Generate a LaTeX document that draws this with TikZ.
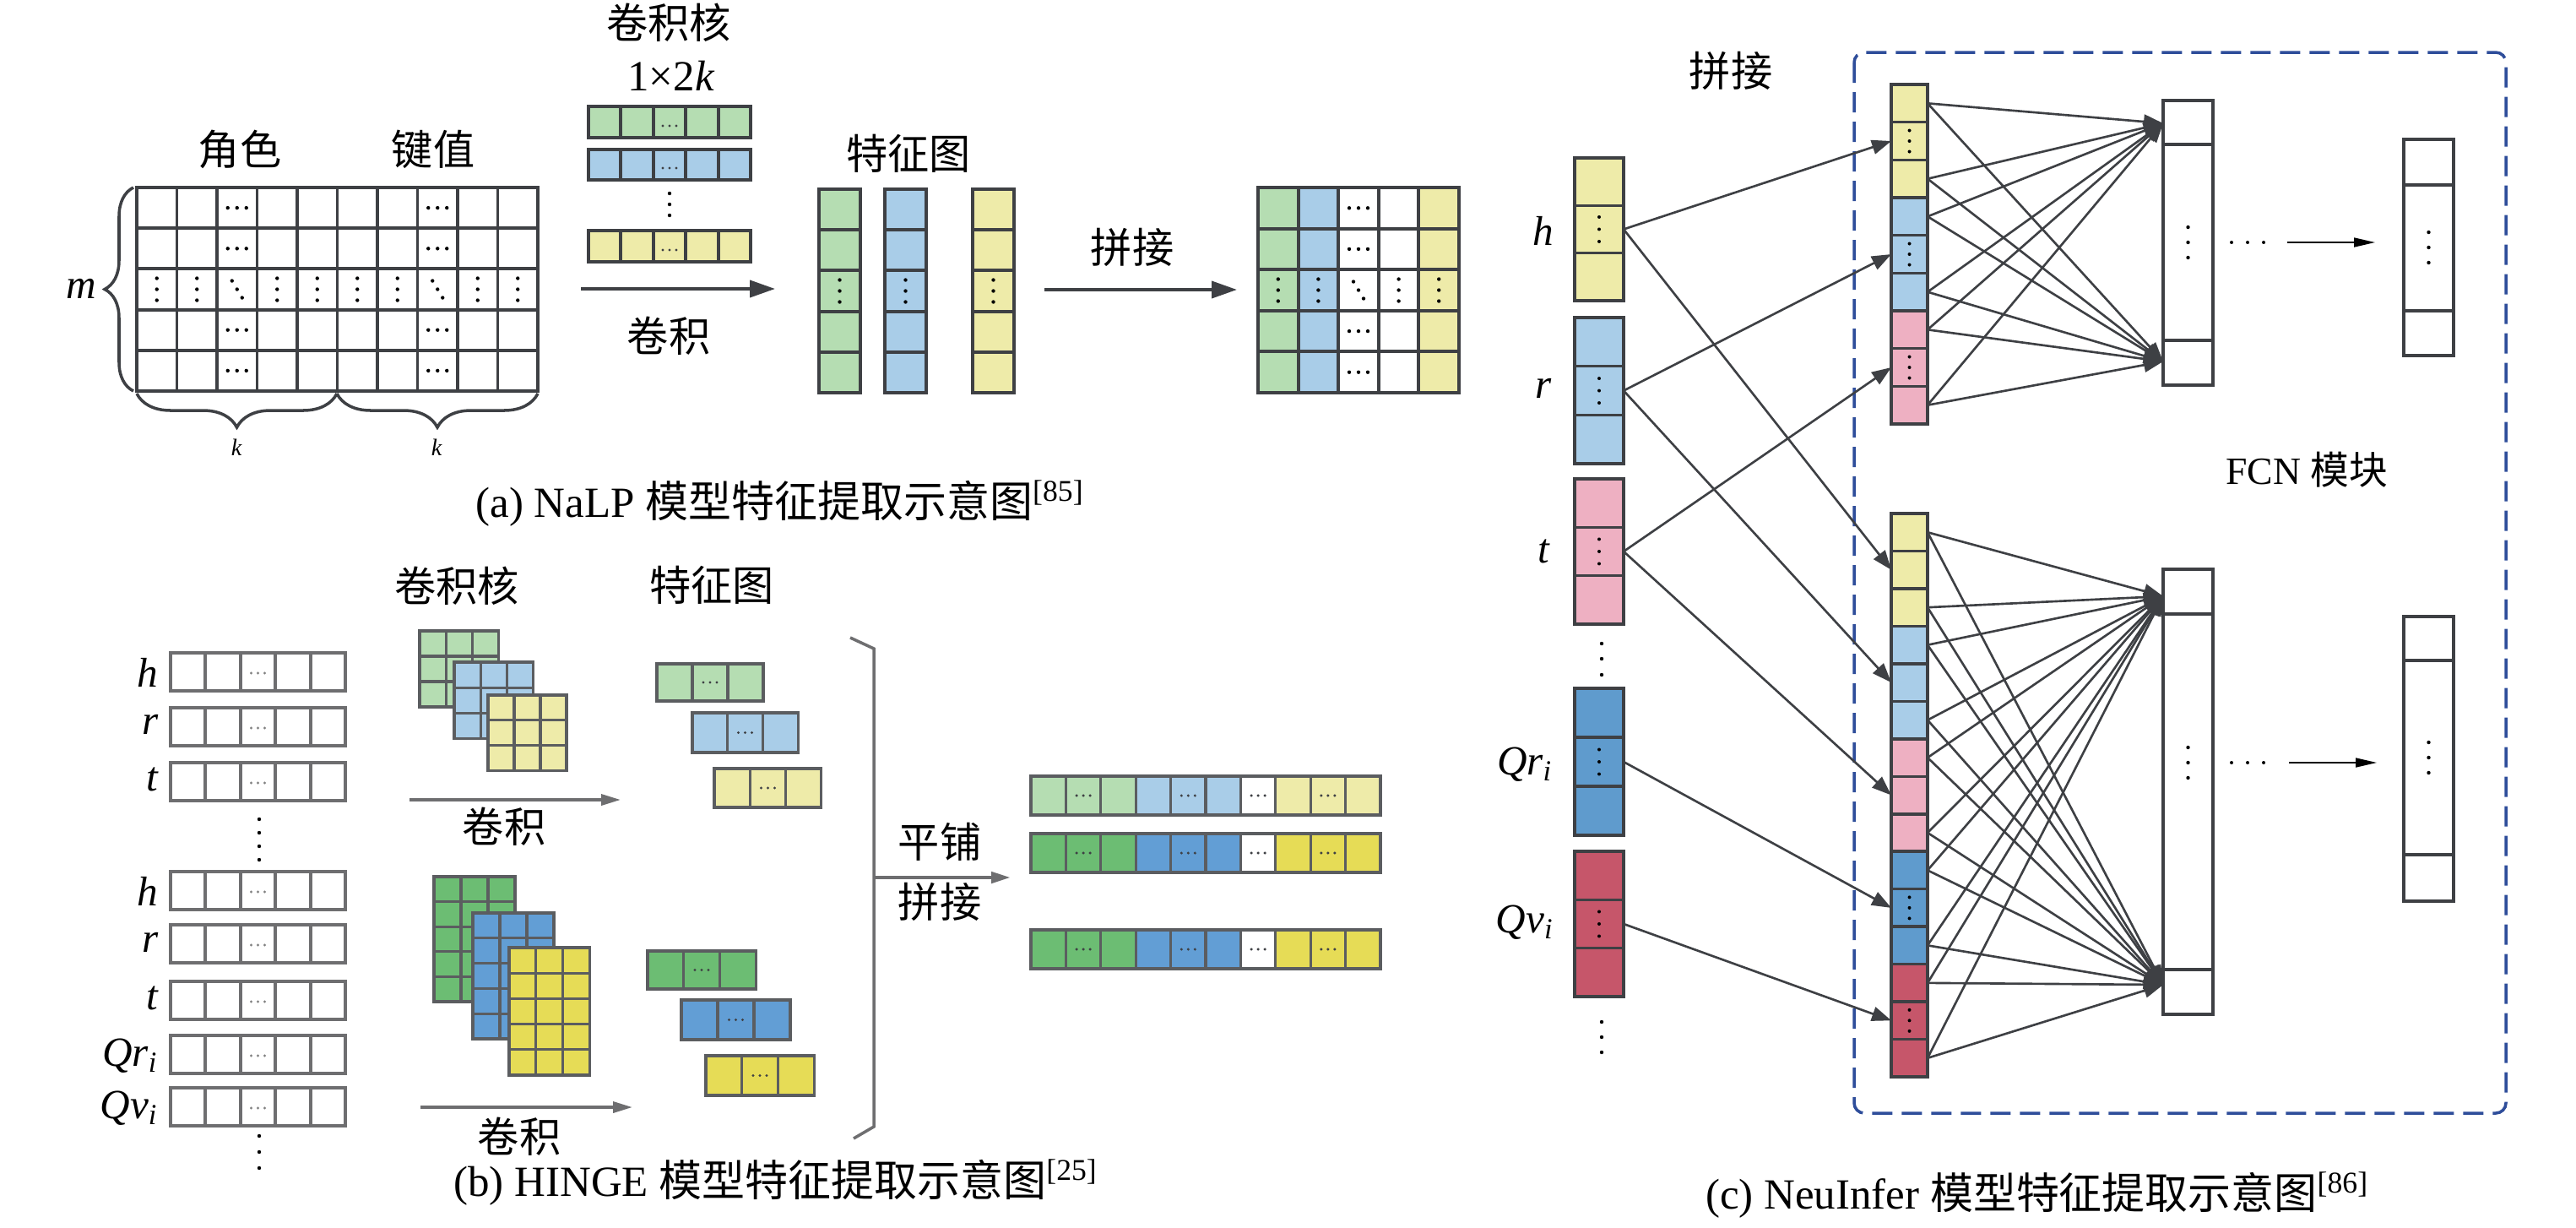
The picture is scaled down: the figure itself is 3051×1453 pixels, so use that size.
\documentclass[tikz,border=0pt]{standalone}
\usepackage{fontspec}
\setmainfont{Liberation Serif}
\newfontfamily\cjk{Noto Sans CJK SC}
\usetikzlibrary{arrows.meta,decorations.pathreplacing}
\definecolor{lgreen}{RGB}{181,221,178}
\definecolor{lblue}{RGB}{169,205,232}
\definecolor{lyellow}{RGB}{238,235,169}
\definecolor{lpink}{RGB}{238,176,194}
\definecolor{qblue}{RGB}{95,155,205}
\definecolor{qred}{RGB}{198,86,106}
\definecolor{dgreen}{RGB}{108,189,115}
\definecolor{hblue}{RGB}{98,158,213}
\definecolor{dyellow}{RGB}{230,220,86}
\definecolor{gridc}{RGB}{62,64,68}
\definecolor{rowc}{RGB}{110,110,112}
\definecolor{boxblue}{RGB}{46,77,154}
\newcommand\dotsH[3][black]{\foreach \dd in {-1,0,1}{\fill[#1] ({#2+\dd*11},{#3}) circle (0.22mm);}}
\newcommand\sdotsH[3][gridc]{\foreach \dd in {-1,0,1}{\fill[#1] ({#2+\dd*8},{#3}) circle (0.17mm);}}
\newcommand\dotsV[3][black]{\foreach \dd in {-1,0,1}{\fill[#1] ({#2},{#3+\dd*13}) circle (0.22mm);}}
\newcommand\dotsD[3][black]{\foreach \dd in {-1,0,1}{\fill[#1] ({#2+\dd*6},{#3+\dd*10}) circle (0.22mm);}}
\newcommand\dotsVat[2]{\foreach \dd in {-1,0,1}{\fill[black] ([yshift=\dd*#2]#1.center) circle (0.2mm);}}
\newcommand\cellrow[7]{\foreach \cc in {1,...,#6}{\draw[#1,fill=#7] ({#2+(\cc-1)*#4},{#3}) rectangle ++(#4,#5);}}
\newcommand\cellgrid[8]{\foreach \cc in {1,...,#6}{\foreach \rr in {1,...,#7}{\draw[#1,fill=#8] ({#2+(\cc-1)*#4},{#3+(\rr-1)*#5}) rectangle ++(#4,#5);}}}
\newcommand\vcol[7]{\foreach \ii in {1,...,#6}{\node[vc,fill=#2,minimum width=#7mm,minimum height={#5*0.1mm}] (#1-\ii) at (#3,{#4+(\ii-0.5)*#5}) {};}}
\newcommand\outrow[4]{\cellrow{kl}{1221}{#1}{41.4}{46}{3}{#2}\cellrow{kl}{1345.2}{#1}{41.4}{46}{3}{#3}\cellrow{kl}{1469.4}{#1}{41.4}{46}{1}{white}\cellrow{kl}{1510.8}{#1}{41.4}{46}{3}{#4}\foreach \ii in {1,4,6,8}{\sdotsH{1221+(\ii+0.5)*41.4}{#1+23}}}
\begin{document}
\begin{tikzpicture}[x=0.1mm,y=-0.1mm,
  gl/.style={draw=gridc,line width=1.1pt},
  rl/.style={draw=rowc,line width=1.1pt},
  kl/.style={draw=gridc!85,line width=0.9pt},
  vc/.style={draw=gridc,line width=1pt,inner sep=0pt,outer sep=0pt},
  zh/.style={font=\cjk\fontsize{14}{16}\selectfont,inner sep=0pt},
  itl/.style={font=\fontsize{14}{16}\selectfont\itshape,inner sep=0pt},
  capt/.style={font=\fontsize{14.5}{17}\selectfont,inner sep=0pt},
  aarr/.style={draw=gridc,line width=1.1pt,-{Triangle[length=3mm,width=2mm]}},
  barr/.style={draw=rowc,line width=1pt,-{Triangle[length=2.3mm,width=1.3mm]}},
  carr/.style={draw=gridc,line width=0.75pt,-{Triangle[length=2.3mm,width=1.7mm]}},
  farr/.style={draw=black,line width=0.5pt,-{Triangle[length=2.5mm,width=1.1mm]}},
]
\useasboundingbox (0,0) rectangle (3051,1453);
% ================= (a) NaLP =================
\node[zh] (la1) at (284,177) {角色};
\node[zh] (la2) at (513,177) {键值};
\foreach \c in {0,...,9}{\foreach \r in {0,...,4}{\draw[gl] ({162+\c*47.5},{222+\r*48.2}) rectangle ++(47.5,48.2);}}
\foreach \r in {0,1,3,4}{\dotsH{280.75}{222+(\r+0.5)*48.2}\dotsH{518.25}{222+(\r+0.5)*48.2}}
\foreach \c in {0,1,3,4,5,6,8,9}{\dotsV{162+(\c+0.5)*47.5}{342.5}}
\dotsD{280.75}{342.5}
\dotsD{518.25}{342.5}
\draw[gl,line width=1pt,decorate,decoration={brace,amplitude=3.4mm}] (158,463) -- (158,222);
\node[itl] (lm) at (96,342) {m};
\draw[gl,line width=1pt,decorate,decoration={brace,amplitude=4mm}] (399,466) -- (162,466);
\draw[gl,line width=1pt,decorate,decoration={brace,amplitude=4mm}] (637,466) -- (399,466);
\node[font=\fontsize{8}{9}\selectfont\itshape,inner sep=0pt] (lk1) at (280,530) {k};
\node[font=\fontsize{8}{9}\selectfont\itshape,inner sep=0pt] (lk2) at (517,530) {k};
% kernels
\node[zh] (lkern) at (792,27) {卷积核};
\node[capt] (lsize) at (795,90) {1×2\textit{k}};
\cellrow{gl}{697}{126}{38.4}{37}{5}{lgreen}
\cellrow{gl}{697}{177}{38.4}{36}{5}{lblue}
\cellrow{gl}{697}{273}{38.4}{37}{5}{lyellow}
\sdotsH{793}{149}
\sdotsH{793}{199}
\sdotsH{793}{296}
\dotsV{793}{242}
\coordinate (a1s) at (688,342);
\coordinate (a1e) at (918,342);
\draw[aarr] (a1s) -- (a1e);
\node[zh] (lconv) at (792,398) {卷积};
% feature maps
\node[zh] (lfm) at (1076,182) {特征图};
\foreach \x/\col in {970/lgreen,1048/lblue,1152/lyellow}{
  \foreach \r in {0,...,4}{\draw[gl,fill=\col] (\x,{224+\r*48.2}) rectangle ++(49,48.2);}
  \dotsV{\x+24.5}{344.5}}
\coordinate (a2s) at (1237,343);
\coordinate (a2e) at (1465,343);
\draw[aarr] (a2s) -- (a2e);
\node[zh] (lcat1) at (1341,293) {拼接};
% result grid
\foreach \c/\col in {0/lgreen,1/lblue,2/white,3/white,4/lyellow}{
  \foreach \r in {0,...,4}{\draw[gl,fill=\col] ({1490+\c*47.6},{222+\r*48.6}) rectangle ++(47.6,48.6);}}
\foreach \c in {0,1,3,4}{\dotsV{1490+(\c+0.5)*47.6}{343.5}}
\foreach \r in {0,1,3,4}{\dotsH{1609}{222+(\r+0.5)*48.6}}
\dotsD{1609}{343.5}
\node[capt] (capa) at (924,596) {(a) NaLP {\cjk 模型特征提取示意图}\textsuperscript{[85]}};
% ================= (b) HINGE =================
\node[zh] (lkb) at (541,694) {卷积核};
\node[zh] (lfb) at (843,693) {特征图};
\foreach \y in {773,838,903,1032,1095,1162,1226,1288}{\cellrow{rl}{202}{\y}{41.4}{45}{5}{white}\sdotsH[gray]{305.5}{\y+24}}
\node[itl,anchor=east] (bh1) at (188,796) {h};
\node[itl,anchor=east] (br1) at (188,858) {r};
\node[itl,anchor=east] (bt1) at (188,923) {t};
\node[itl,anchor=east] (bh2) at (188,1055) {h};
\node[itl,anchor=east] (br2) at (188,1116) {r};
\node[itl,anchor=east] (bt2) at (188,1182) {t};
\node[itl,anchor=east] (bq1) at (188,1250) {Qr\textsubscript{i}};
\node[itl,anchor=east] (bq2) at (188,1312) {Qv\textsubscript{i}};
\foreach \y in {970,986,1002,1018}{\fill (307,\y) circle (0.22mm);}
\foreach \y in {1345,1364,1383}{\fill (307,\y) circle (0.22mm);}
% kernels
\cellgrid{kl}{497}{747}{31.3}{30}{3}{3}{lgreen}
\cellgrid{kl}{538}{784}{31.3}{30.3}{3}{3}{lblue}
\cellgrid{kl}{578}{823}{31}{29.7}{3}{3}{lyellow}
\cellgrid{kl}{514}{1038}{32}{29.6}{3}{5}{dgreen}
\cellgrid{kl}{560}{1081}{32}{29.8}{3}{5}{hblue}
\cellgrid{kl}{603}{1122}{31.7}{30.2}{3}{5}{dyellow}
\coordinate (b1s) at (485,947);
\coordinate (b1e) at (735,947);
\draw[barr] (b1s) -- (b1e);
\node[zh] (lconvb1) at (597,979) {卷积};
\coordinate (b2s) at (498,1311);
\coordinate (b2e) at (749,1311);
\draw[barr] (b2s) -- (b2e);
\node[zh] (lconvb2) at (615,1346) {卷积};
% feature maps
\cellrow{kl}{778}{786}{42}{44}{3}{lgreen}\sdotsH{841}{808}
\cellrow{kl}{820}{844}{41.7}{47}{3}{lblue}\sdotsH{882.5}{867.5}
\cellrow{kl}{846}{910}{42.3}{46}{3}{lyellow}\sdotsH{909.5}{933}
\cellrow{kl}{767}{1126}{42.7}{45}{3}{dgreen}\sdotsH{831}{1148.5}
\cellrow{kl}{807}{1184}{43}{47}{3}{hblue}\sdotsH{871.5}{1207.5}
\cellrow{kl}{836}{1250}{42.7}{47}{3}{dyellow}\sdotsH{900}{1273.5}
% bracket and arrow
\draw[rl,line width=1pt] (1007,755) -- (1035,768) -- (1035,1334) -- (1011,1348);
\coordinate (b3s) at (1035,1039);
\coordinate (b3e) at (1197,1039);
\draw[barr,line width=1.3pt] (b3s) -- (b3e);
\node[zh] (lpp) at (1113,997) {平铺};
\node[zh] (lpj) at (1113,1068) {拼接};
\outrow{919}{lgreen}{lblue}{lyellow}
\outrow{987}{dgreen}{hblue}{dyellow}
\outrow{1101}{dgreen}{hblue}{dyellow}
\node[capt] (capb) at (919,1400) {(b) HINGE {\cjk 模型特征提取示意图}\textsuperscript{[25]}};
% ================= (c) NeuInfer =================
\draw[boxblue,line width=1pt,dash pattern=on 2.4mm off 1.1mm,rounded corners=1.2mm] (2196,62) rectangle (2968,1318);
\node[zh] (lcat) at (2050,84) {拼接};
\vcol{h}{lyellow}{1894}{187}{56.3}{3}{5.8}
\vcol{r}{lblue}{1894}{376}{57.7}{3}{5.8}
\vcol{t}{lpink}{1894}{567}{57.3}{3}{5.8}
\vcol{qr}{qblue}{1894}{815}{58}{3}{5.8}
\vcol{qv}{qred}{1894}{1008}{57.3}{3}{5.8}
\foreach \n in {h,r,t,qr,qv}{\dotsVat{\n-2}{1.45mm}}
\node[itl] (lh) at (1828,273) {h};
\node[itl] (lr) at (1828,460) {r};
\node[itl] (lt) at (1828,653) {t};
\node[itl] (lqr) at (1806,905) {Qr\textsubscript{i}};
\node[itl] (lqv) at (1806,1092) {Qv\textsubscript{i}};
\foreach \y in {762,780,799,1210,1228,1246}{\fill (1897,\y) circle (0.22mm);}
\vcol{ta}{lyellow}{2261.5}{100}{44.67}{3}{4.3}
\vcol{tb}{lblue}{2261.5}{234}{44.67}{3}{4.3}
\vcol{tc}{lpink}{2261.5}{368}{44.67}{3}{4.3}
\vcol{ba}{lyellow}{2261.5}{608}{44.47}{3}{4.3}
\vcol{bb}{lblue}{2261.5}{741.4}{44.47}{3}{4.3}
\vcol{bc}{lpink}{2261.5}{874.8}{44.47}{3}{4.3}
\vcol{bd}{qblue}{2261.5}{1008.2}{44.47}{3}{4.3}
\vcol{be}{qred}{2261.5}{1141.6}{44.47}{3}{4.3}
\foreach \n in {ta,tb,tc,bd,be}{\dotsVat{\n-2}{1.25mm}}
% input arrows
\draw[carr] (h-2.east) -- (ta-2.west);
\draw[carr] (h-2.east) -- (ba-2.west);
\draw[carr] (r-2.east) -- (tb-2.west);
\draw[carr] (r-2.east) -- (bb-2.west);
\draw[carr] (t-2.east) -- (tc-2.west);
\draw[carr] (t-2.east) -- (bc-2.west);
\draw[carr] (qr-2.east) -- (bd-2.west);
\draw[carr] (qv-2.east) -- (be-2.west);
% hidden boxes
\node[vc,minimum width=5.9mm,minimum height=33.7mm] (fa) at (2591.5,287.5) {};
\draw[gridc,line width=1pt] (2562,171) -- (2621,171) (2562,403) -- (2621,403);
\node[vc,minimum width=5.9mm,minimum height=52.7mm] (fb) at (2591.5,937.5) {};
\draw[gridc,line width=1pt] (2562,727) -- (2621,727) (2562,1148) -- (2621,1148);
\coordinate (pa1) at (2562,146);
\coordinate (pa2) at (2562,428);
\coordinate (pb1) at (2562,706);
\coordinate (pb2) at (2562,1166);
\foreach \s in {ta-1,ta-3,tb-1,tb-3,tc-1,tc-3}{\draw[carr] (\s.east) -- (pa1); \draw[carr] (\s.east) -- (pa2);}
\foreach \s in {ba-1,ba-3,bb-1,bb-3,bc-1,bc-3,bd-1,bd-3,be-1,be-3}{\draw[carr] (\s.east) -- (pb1); \draw[carr] (\s.east) -- (pb2);}
\foreach \y in {269,287,305,885,903,921}{\fill (2591.5,\y) circle (0.22mm);}
\foreach \x in {2643,2662,2681}{\fill (\x,287) circle (0.2mm); \fill (\x,903) circle (0.2mm);}
\coordinate (c1s) at (2709,287);
\coordinate (c1e) at (2813,287);
\draw[farr] (c1s) -- (c1e);
\coordinate (c2s) at (2711,903);
\coordinate (c2e) at (2815,903);
\draw[farr] (c2s) -- (c2e);
% output boxes
\node[vc,minimum width=5.9mm,minimum height=25.6mm] (oa) at (2876.5,293) {};
\draw[gridc,line width=1pt] (2847,219) -- (2906,219) (2847,368) -- (2906,368);
\node[vc,minimum width=5.9mm,minimum height=33.7mm] (ob) at (2876.5,898.5) {};
\draw[gridc,line width=1pt] (2847,782) -- (2906,782) (2847,1012) -- (2906,1012);
\foreach \y in {275,293,311,879,897,915}{\fill (2876.5,\y) circle (0.22mm);}
\node[capt,font=\fontsize{13}{15}\selectfont] (lfcn) at (2732,556) {FCN {\cjk 模块}};
\node[capt] (capc) at (2413,1415) {(c) NeuInfer {\cjk 模型特征提取示意图}\textsuperscript{[86]}};
\end{tikzpicture}
\end{document}
